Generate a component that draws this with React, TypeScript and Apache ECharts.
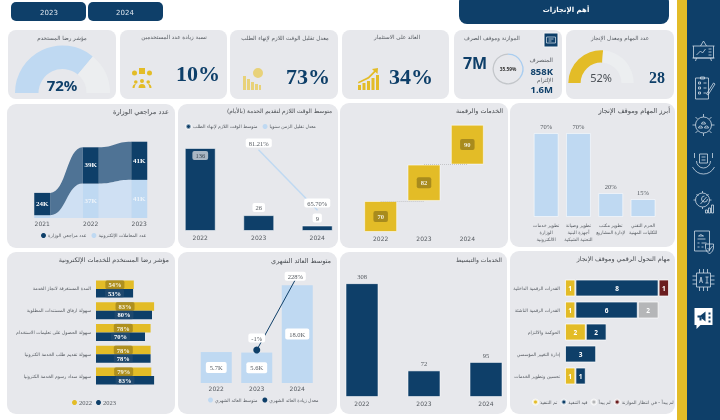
import React, { useEffect, useRef } from "react";
import * as echarts from "echarts";

const NAVY = "#0e3f69", YELLOW = "#e3bc27", LIGHT = "#bfd9f2", PANEL = "#e7e8ec", GRAYT = "#555a60";
const AR = '"DejaVu Sans"';

// ---- data ----
const ribbonYears = ["2021", "2022", "2023"];
const visitors = [24, 39, 41];
const eTransactions = [3, 37, 41];
const serviceYears = ["2022", "2023", "2024"];
const serviceDays = [136, 26, 9];
const serviceRate = [null, 81.21, 65.7];
const digitalValues = [70, 82, 90];
const digitalBase = [0, 70, 152];
const taskNames = ["تطوير خدمات\nالوزارة\nالالكترونية", "تطوير وصيانة\nأجهزة البنية\nالتحتية الشبكية", "تطوير مكتب\nلإدارة المشاريع", "الحرم التقني\nللكليات المهنية"];
const taskValues = [70, 70, 20, 15];
const satisfactionNames = ["المدة المستغرقة لانجاز الخدمة", "سهولة ارفاق المستندات المطلوبة", "سهولة الحصول على تعليمات الاستخدام", "سهولة تقديم طلب الخدمة الكترونيا", "سهولة سداد رسوم الخدمة الكترونيا"];
const satisfaction2022 = [54, 83, 78, 78, 79];
const satisfaction2023 = [53, 80, 70, 78, 83];
const revenue = [5.7, 5.6, 18.0];
const revenueRate = [null, -1, 228];
const simplification = [308, 72, 95];
const transformNames = ["القدرات الرقمية الداخلية", "القدرات الرقمية الناشئة", "الحوكمة والالتزام", "إدارة التغيير المؤسسي", "تحسين وتطوير الخدمات"];
const transformDone = [1, 1, 2, null, 1];
const transformActive = [8, 6, 2, 3, 1];
const transformNotStarted = [null, 2, null, null, null];
const transformWaiting = [1, null, null, null, null];
const satisfactionKpi = 72;
const completionKpi = 52;
const budgetKpi = 35.59;

// ---- icons ----
const iconPaths: Record<string, string> = {
  board: "M-11 -4H11M-10 -4V8H10V-4M-11 8H11M-3 -4L0 -9L3 -4M-7 5L-3 1L-1 3L2 -1M5 -1h3M5 2h3M5 5h3M-7 8L-8 11M7 8L8 11",
  clip: "M-8 -10H5V11H-8ZM-3 -11H1V-9H-3ZM-5 -6h2v2h-2zM0 -5h3M-5 -1h2v2h-2zM0 0h3M-5 4h2v2h-2zM0 5h3M3 6L10 -5L11.5 -4L4.5 7Z",
  gear: "M-8 0a8 8 0 1 0 16 0a8 8 0 1 0 -16 0M-11 0h3M8 0h3M0 -11v3M0 8v3M-8 -8l2 2M8 -8l-2 2M-8 8l2 -2M8 8l-2 -2M-5 3a2 2 0 0 1 4 0ZM1 3a2 2 0 0 1 4 0ZM-2 -1a2 2 0 0 1 4 0Z",
  hand: "M-9 -10v5M9 -10v5M-7 -2a7 7 0 0 0 14 0M-4 -9h8v9h-8zM-11 4q4 7 11 7q7 0 11 -7M-2 -6h4M-2 -3h4",
  cog: "M-8 -2a7 7 0 1 0 14 0a7 7 0 1 0 -14 0M-10 -2h2M6 -2h2M-1 -11v2M-1 5v2M-7 -8l2 2M5 -8l-2 2M-3 2L3 -5M1 -6a3 3 0 1 0 3 3M5 11V6h2v5zM8 11V3h2v8zM2 11V8h2v3z",
  doc: "M-9 -11H6V9H-9ZM-5 -6q2 -3 5 0zM-6 -3h8M-6 1h2M-2 1h5M-6 5h2M-2 5h2M2 2h8v4q0 3 -4 6q-4 -3 -4 -6zM4 6l2 2l3 -4",
  chip: "M-7 -7H7V7H-7ZM-4 -11v4M0 -11v4M4 -11v4M-4 7v4M0 7v4M4 7v4M-11 -4h4M-11 0h4M-11 4h4M7 -4h4M7 0h4M7 4h4M-4 3L-2.5 -3L-1 3M-3.5 1h2M2 -3h3M2 3h3M3.5 -3v6",
  bubble: "M-9 -10H9V7H-3L-7 11V7H-9Z",
  mega: "M-6 -2h3L2 -6V4L-3 0H-6ZM-4 0v3h2V0M5 -5h2v2h-2ZM5 -1h2v2h-2ZM5 3h2v2h-2Z",
  people: "M-2 3a2 2 0 1 0 4 0a2 2 0 1 0 -4 0ZM-3.5 10q0 -4 3.5 -4q3.5 0 3.5 4ZM-8 4a1.8 1.8 0 1 0 3.6 0a1.8 1.8 0 1 0 -3.6 0ZM-9.5 10q0 -4 3.5 -4q-1 1 -1.5 4ZM4.4 4a1.8 1.8 0 1 0 3.6 0a1.8 1.8 0 1 0 -3.6 0ZM9.5 10q0 -4 -3.5 -4q1 1 1.5 4ZM-3 -10h6v6h-6ZM-10 -5a2.5 2.5 0 1 0 5 0a2.5 2.5 0 1 0 -5 0ZM5 -5a2.5 2.5 0 1 0 5 0a2.5 2.5 0 1 0 -5 0Z",
  barsClock: "M-9 -4h3v14h-3ZM-5 -1h3v11h-3ZM-1 2h3v8h-3ZM3 4h3v6h-3ZM7 5h2v5h-2ZM1 -7a5 5 0 1 0 10 0a5 5 0 1 0 -10 0Z",
  barsUp: "M-10 5h3v5h-3ZM-5.5 3h3v7h-3ZM-1 1h3v9h-3ZM3.5 -2h3v12h-3ZM8 -5h3v15h-3ZM-10 2L0 -3L6 -9L4 -11L10 -12L9.5 -6L7.5 -8L1 -1.5L-9.5 3.5Z",
  sheet: "M-4.5 -3H4.5V3H-4.5ZM-2.5 -1h5M-2.5 1h3",
};
Object.keys(iconPaths).forEach((k) => {
  echarts.graphic.registerShape(k, echarts.graphic.extendPath(iconPaths[k], {}) as any);
});

function txt(text: string, x: number, y: number, size: number, fill: string, align = "center", weight: any = "normal", family = AR) {
  return { type: "text", x, y, z: 20, style: { text, fill, fontSize: size, fontWeight: weight, fontFamily: family, align, verticalAlign: "middle" } };
}
function rect(x: number, y: number, w: number, h: number, r: number, fill: string, z = -1) {
  return { type: "rect", z, shape: { x, y, width: w, height: h, r }, style: { fill } };
}
function icon(name: string, x: number, y: number, stroke: string | null, fill: string | null, lw = 0.8) {
  return { type: name, x, y, z: 21, style: { fill: fill || "none", stroke: stroke || "none", lineWidth: lw } };
}
const RLM = "\u200F";

function buildOption() {
  const graphic: any[] = [
    rect(677, 0, 10, 420, 0, YELLOW),
    rect(687, 0, 33, 420, 0, NAVY),
    rect(11, 2, 75, 19, 5, NAVY),
    rect(88, 2, 75, 19, 5, NAVY),
    rect(459, -6, 210, 30, 8, NAVY),
    rect(8, 30, 108, 69, 8, PANEL), rect(120, 30, 107, 69, 8, PANEL), rect(230, 30, 108, 69, 8, PANEL),
    rect(342, 30, 107, 69, 8, PANEL), rect(454, 30, 108, 69, 8, PANEL), rect(566, 30, 108, 69, 8, PANEL),
    rect(7, 104, 168, 144, 9, PANEL), rect(178, 104, 160, 144, 9, PANEL), rect(340, 103, 168, 145, 9, PANEL), rect(510, 103, 165, 144, 9, PANEL),
    rect(7, 252, 168, 162, 9, PANEL), rect(178, 252, 159, 162, 9, PANEL), rect(340, 252, 167, 162, 9, PANEL), rect(510, 251, 165, 163, 9, PANEL),
    txt("2023", 49, 13, 7, "#dfe6ee"), txt("2024", 125, 13, 7, "#dfe6ee"),
    txt("أهم الإنجازات", 566, 10, 7, "#ffffff", "center", "bold"),
    txt("مؤشر رضا المستخدم", 62, 38, 5.6, GRAYT), txt("نسبة زيادة عدد المستخدمين", 174, 37, 5.6, GRAYT),
    txt("معدل تقليل الوقت اللازم لإنهاء الطلب", 285, 38, 5.6, GRAYT), txt("العائد على الاستثمار", 397, 37, 5.6, GRAYT),
    txt("الموازنة وموقف الصرف", 492, 38, 5.6, GRAYT), txt("عدد المهام ومعدل الإنجاز", 620, 38, 5.6, GRAYT),
    txt("72%", 62, 85, 15, NAVY, "center", "bold", '"Noto Sans"'),
    txt("10%", 198, 73, 22, NAVY, "center", "bold", '"Liberation Serif"'),
    txt("73%", 308, 76, 22, NAVY, "center", "bold", '"Liberation Serif"'),
    txt("34%", 411, 76, 22, NAVY, "center", "bold", '"Liberation Serif"'),
    txt("7M", 475, 63, 16, NAVY, "center", "bold", '"Noto Sans"'),
    txt("المنصرف", 553, 59, 6, GRAYT, "right"), txt("858K", 553, 71, 9.5, NAVY, "right", "bold", '"Noto Sans"'),
    txt("الإلتزام", 553, 80, 5.5, GRAYT, "right"), txt("1.6M", 553, 89.5, 9.5, NAVY, "right", "bold", '"Noto Sans"'),
    txt(budgetKpi + "%", 508, 69, 4.8, "#333", "center", "bold", '"Noto Sans"'),
    txt(completionKpi + "%", 601, 77, 11, "#4a4f55", "center", "normal", '"Noto Sans"'),
    txt("28", 657, 77, 16, NAVY, "center", "bold", '"Liberation Serif"'),
    txt("عدد مراجعي الوزارة", 169, 112, 6.7, "#45494e", "right"),
    txt(RLM + "متوسط الوقت اللازم لتقديم الخدمة (بالأيام)" + RLM, 332, 111, 5.8, "#45494e", "right"),
    txt("الخدمات والرقمنة", 503, 111, 6.4, "#45494e", "right"),
    txt("أبرز المهام وموقف الإنجاز", 670, 111, 6.7, "#45494e", "right"),
    txt("مؤشر رضا المستخدم للخدمات الإلكترونية", 169, 260, 6.4, "#45494e", "right"),
    txt("متوسط العائد الشهري", 331, 261, 6.5, "#45494e", "right"),
    txt("الخدمات والتبسيط", 502, 259, 6, "#45494e", "right"),
    txt("مهام التحول الرقمي وموقف الإنجاز", 670, 259, 6.4, "#45494e", "right"),
    icon("board", 703.5, 50, "#cfdbe6", null), icon("clip", 703.5, 88, "#cfdbe6", null), icon("gear", 703.5, 125, "#cfdbe6", null),
    icon("hand", 703.5, 163, "#cfdbe6", null), icon("cog", 703.5, 202, "#cfdbe6", null), icon("doc", 703.5, 242, "#cfdbe6", null),
    icon("chip", 703.5, 280, "#cfdbe6", null), icon("bubble", 703.5, 318, null, "#ffffff"), icon("mega", 703.5, 317.5, null, NAVY),
    icon("people", 142, 78, null, YELLOW), icon("barsClock", 252, 80, null, "#e8d27a"), icon("barsUp", 368, 80, null, YELLOW),
    { type: "rect", z: 20, shape: { x: 544, y: 33, width: 14, height: 14 }, style: { fill: NAVY, stroke: "#f2f4f6", lineWidth: 1 } },
    icon("sheet", 551, 40, "#dfe8f0", null, 0.7),
  ];

  const grid: any[] = [], xAxis: any[] = [], yAxis: any[] = [], series: any[] = [], legend: any[] = [];
  const tick = { color: GRAYT, fontSize: 6, fontFamily: '"DejaVu Sans"' };
  function cat(idx: number, data: string[], margin = 2, extra: any = {}) {
    return { type: "category", gridIndex: idx, data, axisLine: { show: false }, axisTick: { show: false }, axisLabel: { ...tick, margin, interval: 0, ...extra } };
  }
  function val(idx: number, min: number, max: number) {
    return { type: "value", gridIndex: idx, min, max, show: false, splitLine: { show: false } };
  }
  const edge = { borderColor: "rgba(255,255,255,0.55)", borderWidth: 1 };
  const leg = (left: number, top: number, data: string[], itemGap = 5, color = GRAYT) => ({
    left, top, data, icon: "circle", itemWidth: 5, itemHeight: 5, itemGap, selectedMode: false, padding: 0,
    textStyle: { fontSize: 4.6, color, fontFamily: AR, padding: [0, 0, 0, -3] },
  });

  // gauges and ring
  const gauge = (center: number[], radius: number[], v: number, color: string, rest: string) => ({
    type: "pie", center, radius, startAngle: 180, silent: true, label: { show: false }, labelLine: { show: false }, animation: false,
    data: [{ value: v, itemStyle: { color } }, { value: 100 - v, itemStyle: { color: rest } }, { value: 100, itemStyle: { color: "transparent" } }],
  });
  series.push(gauge([62.5, 93], [24, 47.5], satisfactionKpi, LIGHT, "#eceef0"));
  series.push(gauge([601, 83], [20.4, 32.7], completionKpi, YELLOW, "#eceef0"));
  series.push({ type: "pie", center: [508, 69], radius: [14.2, 15.5], startAngle: 90, silent: true, label: { show: false }, labelLine: { show: false },
    data: [{ value: budgetKpi, itemStyle: { color: "#a9cdf0" } }, { value: 100 - budgetKpi, itemStyle: { color: "#c3c6ca" } }] });

  // A ribbon chart
  grid.push({ left: 18, width: 145.5, top: 118, height: 100 });
  xAxis.push(cat(0, ribbonYears));
  yAxis.push(val(0, 0, 107.5));
  const lightTop = eTransactions;
  const darkTop = eTransactions.map((v, i) => v + visitors[i]);
  const ribbon = (base: number[], top: number[], fill: string) => ({
    type: "custom", xAxisIndex: 0, yAxisIndex: 0, silent: true, z: 1, encode: { x: 0, y: 1 },
    data: ribbonYears.slice(0, -1).map((y, i) => [y, top[i]]),
    renderItem: (p: any, api: any) => {
      const i = p.dataIndex;
      const half = 8;
      const a0 = api.coord([i, base[i]]), a1 = api.coord([i, top[i]]);
      const b0 = api.coord([i + 1, base[i + 1]]), b1 = api.coord([i + 1, top[i + 1]]);
      const x0 = a0[0] + half, x1 = b0[0] - half, m = (x0 + x1) / 2;
      const d = `M${x0} ${a1[1]}C${m} ${a1[1]} ${m} ${b1[1]} ${x1} ${b1[1]}L${x1} ${b0[1]}C${m} ${b0[1]} ${m} ${a0[1]} ${x0} ${a0[1]}Z`;
      return { type: "path", shape: { pathData: d }, style: { fill } };
    },
  });
  series.push(ribbon([0, 0, 0], lightTop, "#cfe0f3"));
  series.push(ribbon(lightTop, darkTop, "#4f7395"));
  const kLabel = (color: string, extra: any = {}) => ({
    show: true, position: "inside", color, fontSize: 7, fontFamily: '"Liberation Serif"', fontWeight: "bold",
    formatter: (p: any) => p.value + "K", ...extra,
  });
  series.push({ name: "عدد المعاملات الإلكترونية", type: "bar", xAxisIndex: 0, yAxisIndex: 0, stack: "a", barWidth: 16, z: 3, itemStyle: { color: LIGHT },
    label: kLabel("#eef4fa", { formatter: (p: any) => (p.dataIndex === 0 ? "" : p.value + "K") }), data: eTransactions });
  series.push({ name: "عدد مراجعي الوزارة", type: "bar", xAxisIndex: 0, yAxisIndex: 0, stack: "a", barWidth: 16, z: 3, itemStyle: { color: NAVY }, label: kLabel("#ffffff"), data: visitors });
  legend.push(leg(41, 233, ["عدد مراجعي الوزارة", "عدد المعاملات الإلكترونية"]));

  // B service days
  grid.push({ left: 171, width: 175.5, top: 140, height: 91 });
  xAxis.push(cat(1, serviceYears, 3));
  yAxis.push(val(1, 0, 149), val(1, 60.28, 83.8));
  const whiteLabel = { backgroundColor: "#fff", borderRadius: 2, padding: [1, 3], color: GRAYT, fontSize: 6.5, fontFamily: '"Liberation Serif"' };
  series.push({ name: "متوسط الوقت اللازم لإنهاء الطلب", type: "bar", xAxisIndex: 1, yAxisIndex: 1, barWidth: 31, z: 3,
    itemStyle: { color: NAVY, ...edge },
    data: serviceDays.map((v, i) => i === 0 ? { value: v, label: { position: "insideTop", distance: 3, backgroundColor: "#a9b6c3", color: "#3a4652" } } : v),
    label: { show: true, position: "top", distance: 3, ...whiteLabel } });
  series.push({ name: "معدل تقليل الزمن سنويا", type: "line", xAxisIndex: 1, yAxisIndex: 2, z: 4, symbol: "circle", symbolSize: 1, showSymbol: true, color: LIGHT, lineStyle: { color: LIGHT, width: 1.5 },
    data: serviceRate, label: { show: true, position: "top", distance: 2, ...whiteLabel, formatter: (p: any) => p.value.toFixed(2) + "%" } });
  legend.push(leg(185, 123, ["متوسط الوقت اللازم لإنهاء الطلب", "معدل تقليل الزمن سنويا"]));

  // C digital waterfall
  grid.push({ left: 359, width: 130, top: 122, height: 110 });
  xAxis.push(cat(2, serviceYears, 3));
  yAxis.push(val(2, 0, 248));
  const cons = digitalBase.slice(1).map((b, i) => [{ xAxis: serviceYears[i], yAxis: b }, { xAxis: serviceYears[i + 1], yAxis: b }]);
  series.push({ type: "bar", xAxisIndex: 2, yAxisIndex: 3, stack: "c", barWidth: 33, z: 1, itemStyle: { color: "transparent" }, data: digitalBase,
    markLine: { silent: true, symbol: "none", label: { show: false }, lineStyle: { color: "#c4c5c8", type: "dotted", width: 1 }, data: cons } });
  series.push({ type: "bar", xAxisIndex: 2, yAxisIndex: 3, stack: "c", barWidth: 33, z: 3, itemStyle: { color: YELLOW, ...edge }, data: digitalValues,
    label: { show: true, position: "inside", color: "#f3f0e0", fontSize: 6.5, fontFamily: '"Liberation Serif"', fontWeight: "bold", backgroundColor: "rgba(110,90,20,0.5)", borderRadius: 2, padding: [2, 4] } });

  // D tasks
  grid.push({ left: 530, width: 129.2, top: 125, height: 92 });
  xAxis.push(cat(3, taskNames, 5, { fontSize: 4.6, lineHeight: 7 }));
  yAxis.push(val(3, 0, 76.7));
  series.push({ type: "bar", xAxisIndex: 3, yAxisIndex: 4, barWidth: 25, z: 3, itemStyle: { color: LIGHT, ...edge }, data: taskValues,
    label: { show: true, position: "top", distance: 3, color: GRAYT, fontSize: 6.5, fontFamily: '"Liberation Serif"', formatter: "{c}%" } });

  // E satisfaction
  grid.push({ left: 96, width: 70, top: 278, height: 109 });
  xAxis.push({ type: "value", gridIndex: 4, min: 0, max: 100, show: false, splitLine: { show: false } });
  yAxis.push({ type: "category", gridIndex: 4, inverse: true, data: satisfactionNames, axisLine: { show: false }, axisTick: { show: false },
    axisLabel: { color: GRAYT, fontSize: 4.6, margin: 5, interval: 0, fontFamily: AR } });
  const pctLabel = (bg: string, color: string) => ({ show: true, position: "inside", formatter: "{c}%", color, fontSize: 6.5, fontWeight: "bold", fontFamily: '"Liberation Serif"', backgroundColor: bg, borderRadius: 2, padding: [1, 3] });
  series.push({ name: "2022", type: "bar", xAxisIndex: 4, yAxisIndex: 5, barWidth: 8.5, barGap: "0%", z: 3, itemStyle: { color: YELLOW }, data: satisfaction2022, label: pctLabel("rgba(110,90,20,0.45)", "#f6f1dc") });
  series.push({ name: "2023", type: "bar", xAxisIndex: 4, yAxisIndex: 5, barWidth: 8.5, barGap: "0%", z: 3, itemStyle: { color: NAVY }, data: satisfaction2023, label: pctLabel("rgba(60,90,120,0.35)", "#ffffff") });
  legend.push({ ...leg(72, 399, ["2022", "2023"], 4), textStyle: { fontSize: 6.5, color: GRAYT, fontFamily: '"Liberation Serif"', padding: [0, 0, 0, -3] } });

  // F revenue
  grid.push({ left: 196, width: 121.5, top: 270, height: 113 });
  xAxis.push(cat(5, serviceYears, 2));
  yAxis.push(val(5, 0, 20.8), val(5, -103, 247));
  series.push({ name: "متوسط العائد الشهري", type: "bar", xAxisIndex: 5, yAxisIndex: 6, barWidth: 31, z: 3, itemStyle: { color: LIGHT }, data: revenue,
    label: { show: true, position: "inside", ...whiteLabel, padding: [2, 4], formatter: (p: any) => p.value.toFixed(1) + "K" } });
  series.push({ name: "معدل زيادة العائد الشهري", type: "line", xAxisIndex: 5, yAxisIndex: 7, z: 4, color: NAVY, symbol: "circle", symbolSize: 7, lineStyle: { color: NAVY, width: 1 },
    data: revenueRate.map((v, i) => i === 2 ? { value: v, symbolSize: 1, label: { position: "inside", offset: [-2, 0] } } : v),
    label: { show: true, position: "top", distance: 4, ...whiteLabel, formatter: "{c}%" } });
  legend.push(leg(208, 397.5, ["متوسط العائد الشهري", "معدل زيادة العائد الشهري"]));

  // G simplification
  grid.push({ left: 331, width: 186, top: 275, height: 122 });
  xAxis.push(cat(6, serviceYears, 3));
  yAxis.push(val(6, 0, 330));
  series.push({ type: "bar", xAxisIndex: 6, yAxisIndex: 8, barWidth: 33, z: 3, itemStyle: { color: NAVY, ...edge }, data: simplification,
    label: { show: true, position: "top", distance: 3, color: GRAYT, fontSize: 6.5, fontFamily: '"Liberation Serif"' } });

  // H transformation
  grid.push({ left: 565, width: 104, top: 277, height: 110 });
  xAxis.push({ type: "value", gridIndex: 7, min: 0, max: 10, show: false, splitLine: { show: false } });
  yAxis.push({ type: "category", gridIndex: 7, inverse: true, data: transformNames, axisLine: { show: false }, axisTick: { show: false },
    axisLabel: { color: GRAYT, fontSize: 4.6, margin: 5, interval: 0, fontFamily: AR } });
  const stackSeries = (name: string, data: any[], color: string) => ({ name, type: "bar", xAxisIndex: 7, yAxisIndex: 9, stack: "h", barWidth: 17, z: 3,
    itemStyle: { color, borderColor: "rgba(255,255,255,0.7)", borderWidth: 1 }, data,
    label: { show: true, position: "inside", color: "#fff", fontSize: 6.5, fontWeight: "bold", fontFamily: '"Noto Sans"' } });
  series.push(stackSeries("تم التنفيذ", transformDone, YELLOW));
  series.push(stackSeries("قيد التنفيذ", transformActive, NAVY));
  series.push(stackSeries("لم يبدأ", transformNotStarted, "#b5b6b8"));
  series.push(stackSeries("لم يبدأ - في انتظار الموازنة", transformWaiting, "#6b1d1f"));
  legend.push(leg(532, 398.5, ["تم التنفيذ", "قيد التنفيذ", "لم يبدأ", "لم يبدأ - في انتظار الموازنة"], 3));

  return { animation: false, backgroundColor: "#ffffff", textStyle: { fontFamily: AR }, tooltip: { show: false }, grid, xAxis, yAxis, series, legend, graphic: { elements: graphic } };
}

export default function App() {
  const ref = useRef<HTMLDivElement>(null);
  useEffect(() => {
    document.body.style.margin = "0";
    const chart = echarts.init(ref.current!, undefined, { renderer: "svg", width: 720, height: 420 });
    chart.setOption(buildOption() as any);
    return () => chart.dispose();
  }, []);
  return <div ref={ref} style={{ width: 720, height: 420, filter: "blur(0.35px)" }} />;
}
